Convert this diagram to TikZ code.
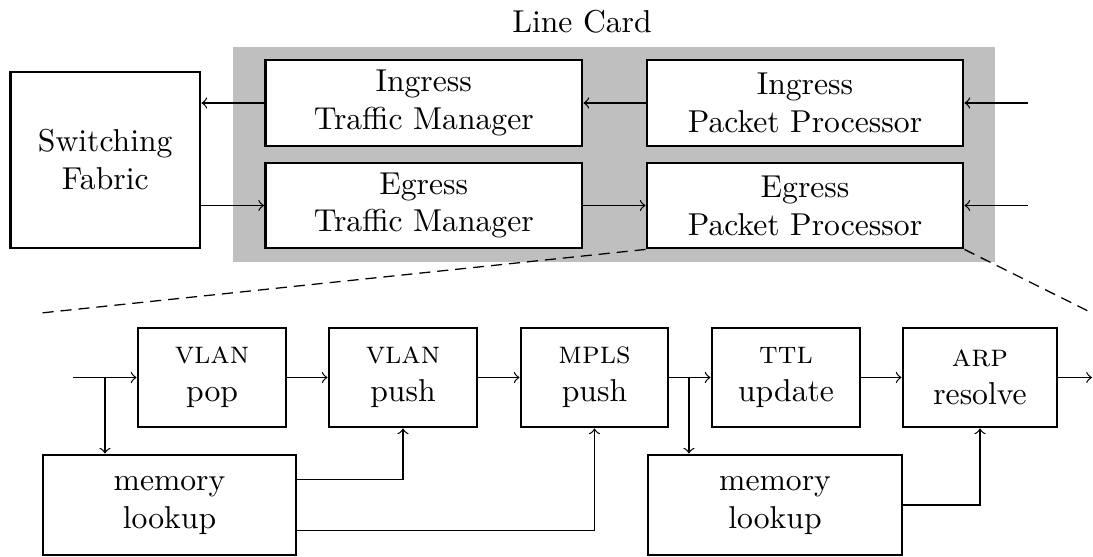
\documentclass[tikz,border=0pt]{standalone}
\usepackage{fontspec}
\usetikzlibrary{calc}
\tikzset{
  blk/.style 2 args={draw, line width=0.9pt, fill=white, inner sep=0pt, align=center,
    minimum width=#1*0.316pt, minimum height=#2*0.316pt},
  conn/.style={->, line width=0.4pt},
  zoomline/.style={line width=0.4pt, dash pattern=on 3.5pt off 2.2pt},
}
\begin{document}
\begin{tikzpicture}[x=0.316pt, y=-0.316pt]
\useasboundingbox (0,0) rectangle (1093,557);
% line card background
\fill[gray!50] (233,47) rectangle (995,262);
\node[anchor=base] (lc) at (582,33) {Line Card};
% top blocks
\node[blk={189.5}{176}] (sf) at (105.25,160) {Switching\\Fabric};
\node[blk={316.5}{86}] (itm) at (423.75,103) {Ingress\\Traffic Manager};
\node[blk={316.5}{85}] (etm) at (423.75,205.5) {Egress\\Traffic Manager};
\node[blk={316}{86}] (ipp) at (805,103) {Ingress\\Packet Processor};
\node[blk={316}{85}] (epp) at (805,205.5) {Egress\\Packet Processor};
\coordinate (in1) at (1027.5,0 |- ipp.east);
\coordinate (in2) at (1027.5,0 |- epp.east);
\draw[conn] (itm.west) -- (itm.west -| sf.east);
\draw[conn] (etm.west -| sf.east) -- (etm.west);
\draw[conn] (ipp.west) -- (itm.east);
\draw[conn] (etm.east) -- (epp.west);
\draw[conn] (in1) -- (ipp.east);
\draw[conn] (in2) -- (epp.east);
% zoom lines
\coordinate (zl) at (41,313);
\coordinate (zr) at (1092,313);
\draw[zoomline] (epp.south west) -- (zl);
\draw[zoomline] (epp.south east) -- (zr);
% pipeline
\node[blk={148}{99}] (pop) at (212,377.5) {\textsc{vlan}\\pop};
\node[blk={148}{99}] (push) at (403,377.5) {\textsc{vlan}\\push};
\node[blk={147}{99}] (mpls) at (594.5,377.5) {\textsc{mpls}\\push};
\node[blk={148}{99}] (ttl) at (786,377.5) {\textsc{ttl}\\update};
\node[blk={154}{99}] (arp) at (980,377.5) {\textsc{arp}\\resolve};
\node[blk={253}{100}] (mem1) at (169.5,505) {memory\\lookup};
\node[blk={254}{100}] (mem2) at (775,505) {memory\\lookup};
\coordinate (start) at (73,0 |- pop.west);
\coordinate (b1) at (105,0 |- pop.west);
\coordinate (b2) at (689,0 |- mpls.east);
\coordinate (out) at (1092,0 |- arp.east);
\draw[conn] (start) -- (pop.west);
\draw[conn] (b1) -- (b1 |- mem1.north);
\draw[conn] (pop.east) -- (push.west);
\draw[conn] (push.east) -- (mpls.west);
\draw[conn] (mpls.east) -- (ttl.west);
\draw[conn] (b2) -- (b2 |- mem2.north);
\draw[conn] (ttl.east) -- (arp.west);
\draw[conn] (arp.east) -- (out);
\draw[conn] ($(mem1.north east)!0.25!(mem1.south east)$) -| (push.south);
\draw[conn] ($(mem1.north east)!0.75!(mem1.south east)$) -| (mpls.south);
\draw[conn] (mem2.east) -| (arp.south);
\end{tikzpicture}
\end{document}
